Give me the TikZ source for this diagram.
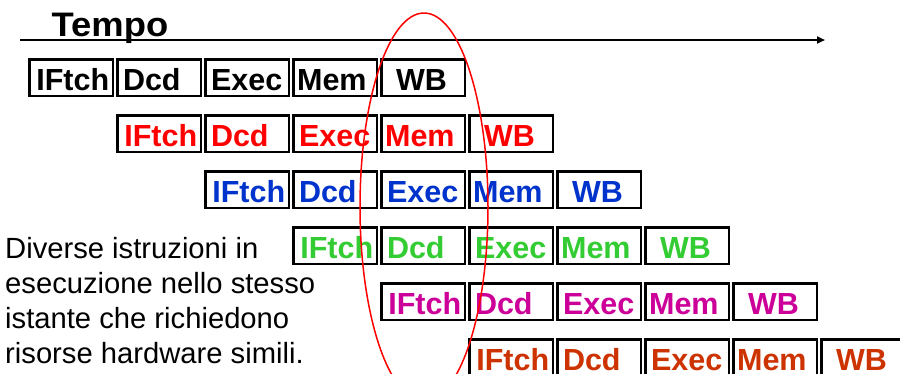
\documentclass[tikz,border=0pt]{standalone}
\usepackage{fontspec}
\usepackage{graphicx}
\setmainfont{Liberation Sans}
\usetikzlibrary{arrows.meta,shapes.geometric}
\definecolor{cRed}{RGB}{255,0,0}
\definecolor{cBlue}{RGB}{0,51,204}
\definecolor{cGreen}{RGB}{51,204,51}
\definecolor{cMag}{RGB}{204,0,153}
\definecolor{cOra}{RGB}{204,51,0}
\begin{document}
\begin{tikzpicture}[x=1pt,y=-1pt,
  stagebox/.style={draw=black, line width=2.5pt, fill=white, inner sep=0pt,
    text height=31pt, text depth=5.5pt, anchor=north west,
    font=\fontsize{30.5}{36}\selectfont\bfseries},
  axisline/.style={line width=2pt, -{Triangle[length=8pt,width=7pt]}},
  ring/.style={draw=cRed, line width=1.5pt},
  note/.style={anchor=base west, inner sep=0pt, align=left,
    font=\fontsize{29.2}{35}\selectfont},
  title/.style={anchor=base west, inner sep=0pt,
    font=\fontsize{34}{40}\selectfont\bfseries}
]
\useasboundingbox (0,0) rectangle (900,373);
\clip (0,0) rectangle (900,373);
\coordinate (axs) at (20,40);
\coordinate (axe) at (825,40);
\draw[axisline] (axs) -- (axe);
\node[title] (tempo) at (51.5,36.3) {\scalebox{1.07}[1]{Tempo}};
\foreach \r/\col in {1/black,2/cRed,3/cBlue,4/cGreen,5/cMag,6/cOra}{
  \foreach \s/\txt/\off in {1/IFtch/6.8,2/Dcd/5.5,3/Exec/5.6,4/Mem/3.6,5/WB/14.6}{
    \node[stagebox, text=\col] (b\r\s) at ({28.25+88*(\r+\s-2)},{58.25+56*(\r-1)})
      {\makebox[83.5pt][l]{\hspace{\off pt}\txt}};
  }
}
\node[note] (desc) at (5,363) {Diverse istruzioni in\\esecuzione nello stesso\\istante che richiedono\\risorse hardware simili.};
\node[ring, ellipse, minimum width=128pt, minimum height=388pt, inner sep=0pt] (ovl) at (424,207) {};
\end{tikzpicture}
\end{document}
